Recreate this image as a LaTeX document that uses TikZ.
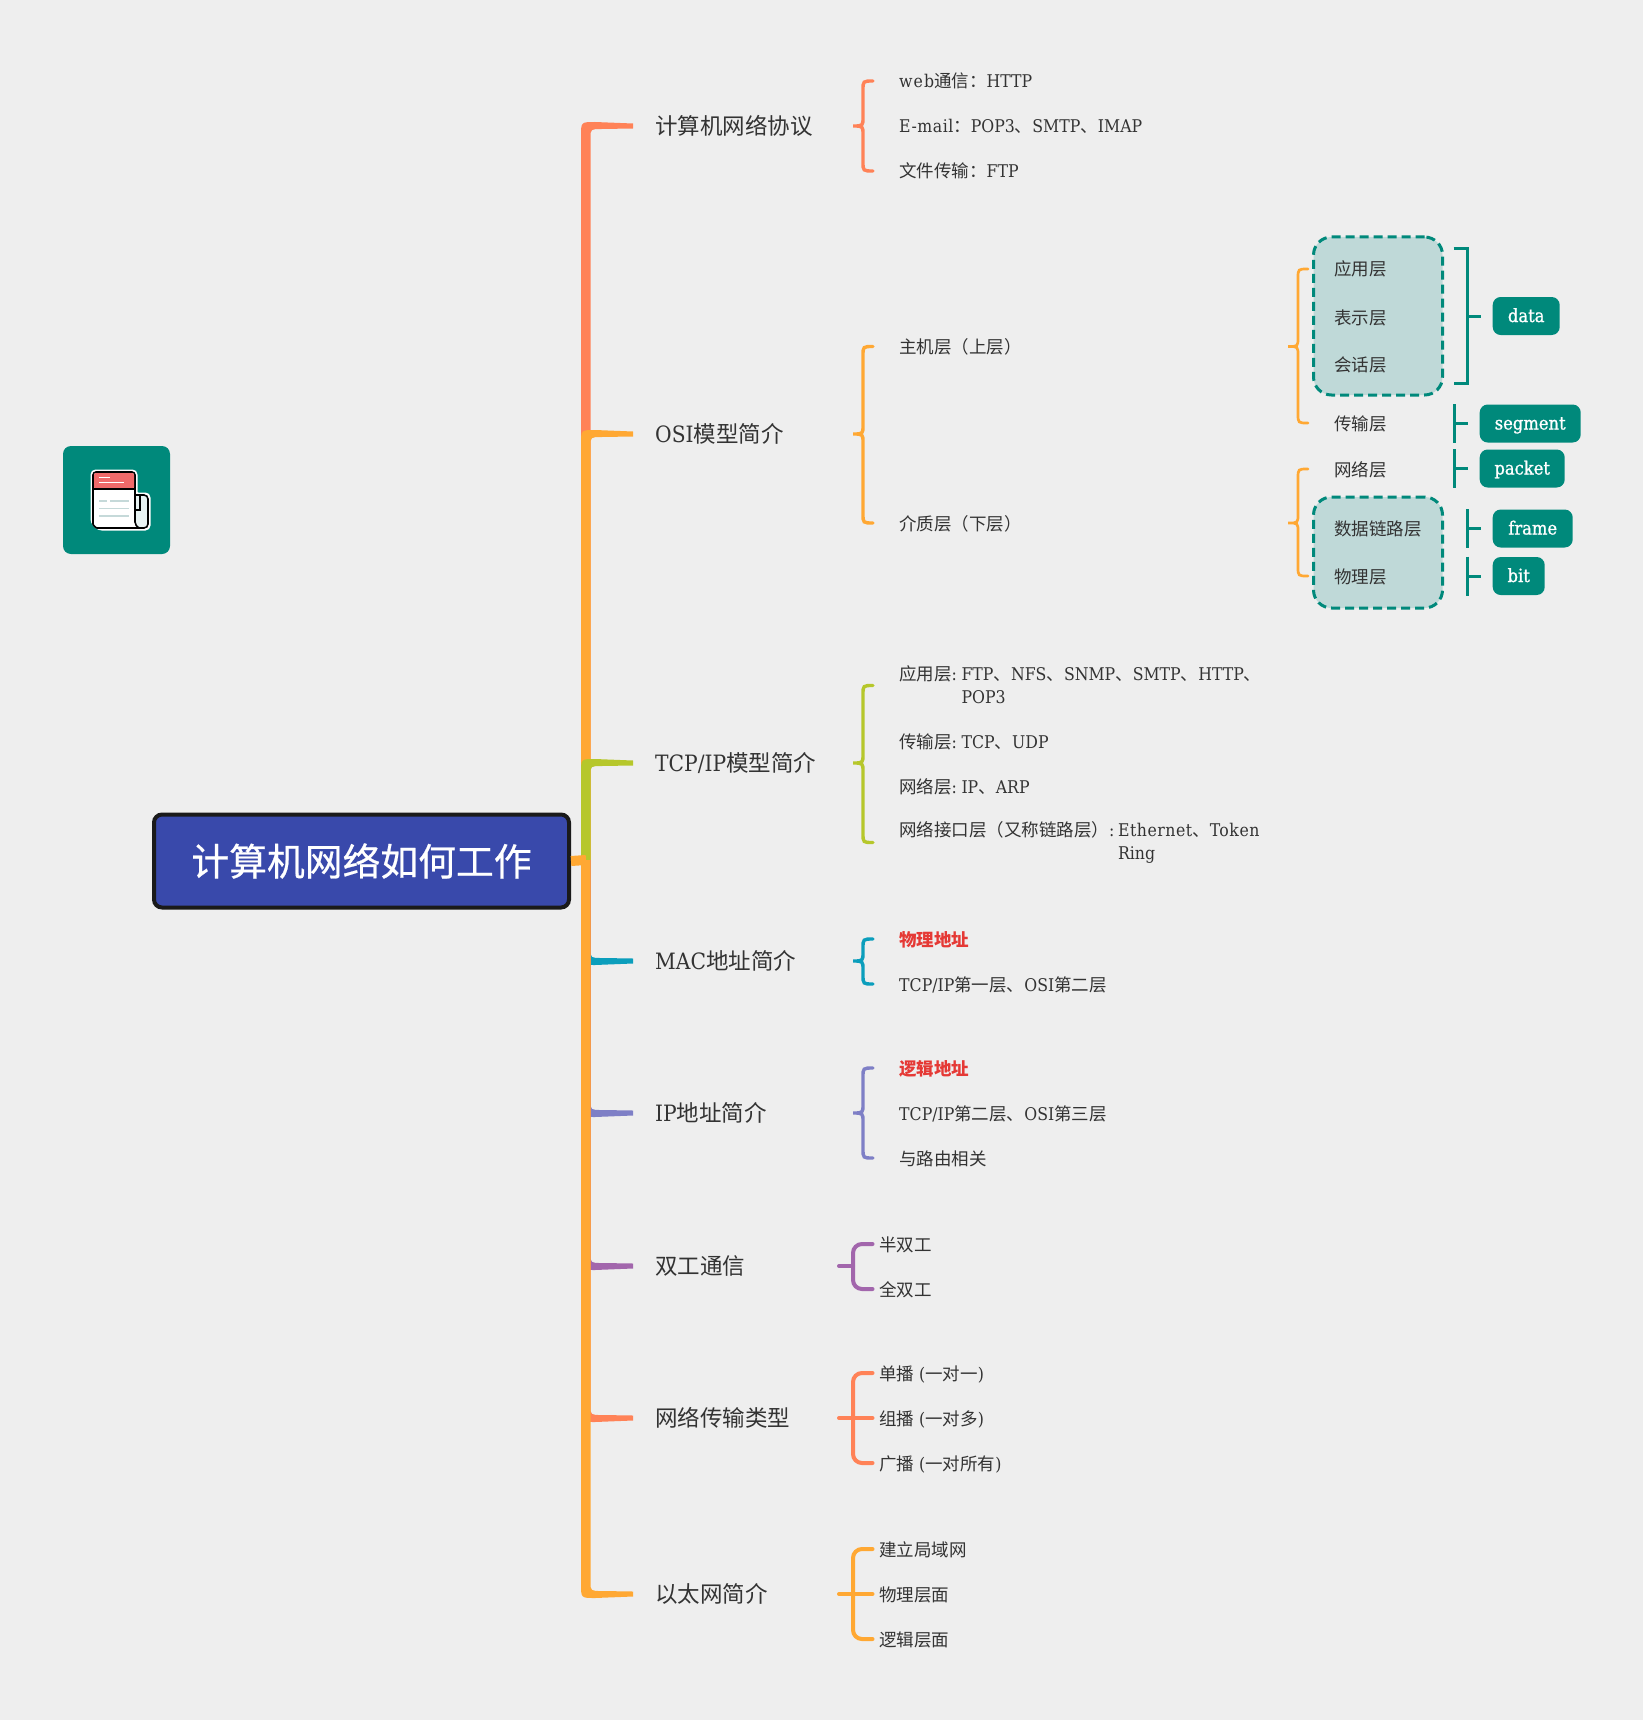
\documentclass[tikz,border=0pt]{standalone}
\usepackage{fontspec}
\usepackage{xcolor}
\usepackage{tikz}
\setmainfont{DejaVu Serif Condensed}
\newfontfamily\zhfont{Noto Sans CJK SC}
\newfontface\tagfont{DejaVu Serif Condensed}[FakeBold=1]
\newfontface\rootfont{Noto Sans CJK SC}[FakeBold=0.6]
\newfontface\widefont{DejaVu Serif Condensed}[LetterSpace=3]
\newfontface\widerfont{DejaVu Serif Condensed}[LetterSpace=6]
\newcommand{\zh}[1]{{\zhfont #1}}
\definecolor{pagegrey}{HTML}{EEEEEE}
\definecolor{rootblue}{HTML}{3949AB}
\definecolor{rootline}{HTML}{1A1A1A}
\definecolor{tagteal}{HTML}{00897B}
\definecolor{paleteal}{HTML}{BFD9D8}
\definecolor{coral}{HTML}{FF8257}
\definecolor{amber}{HTML}{FFA833}
\definecolor{lime}{HTML}{B6C72B}
\definecolor{cyanblue}{HTML}{0B9EBC}
\definecolor{slateblue}{HTML}{7E7FC6}
\definecolor{plum}{HTML}{A266AC}
\definecolor{redmark}{HTML}{E53935}
\definecolor{textgrey}{HTML}{333333}
\definecolor{linegrey}{HTML}{C5D9D9}
\definecolor{headred}{HTML}{F06A6A}
\definecolor{scrollpale}{HTML}{E8F3F3}

\tikzset{
  rootbox/.style={draw=rootline, line width=4pt, fill=rootblue, rounded corners=8pt, text=white,
    minimum width=415pt, minimum height=93pt, font=\fontsize{37.8}{44}\selectfont\rootfont},
  topic/.style={anchor=west, inner sep=0pt, text=textgrey, text height=20pt, text depth=3pt,
    font=\fontsize{22.5}{27}\selectfont},
  leaf/.style={anchor=west, inner sep=0pt, text=textgrey, text height=17pt, text depth=3pt,
    font=\fontsize{17.5}{23}\selectfont},
  longleaf/.style={anchor=west, inner sep=0pt, text=textgrey, align=left,
    font=\fontsize{17.5}{23}\selectfont},
  tagbox/.style={anchor=west, fill=tagteal, rounded corners=8pt, text=white, inner sep=0pt,
    minimum height=38pt, text height=15pt, text depth=3pt, font=\fontsize{18.2}{22}\selectfont\tagfont},
  dashbox/.style={draw=tagteal, line width=3pt, fill=paleteal, rounded corners=18pt,
    dash pattern=on 9pt off 5pt},
  tealline/.style={draw=tagteal, line width=3pt},
  bracewide/.style={line width=3.4pt, line cap=round},
  bracethin/.style={line width=2.7pt, line cap=round},
  combline/.style={line width=4pt, line cap=round, rounded corners=9pt},
}

% tapered branch: colour, topic node, direction (-1 up, 1 down)
\newcommand{\branch}[3]{%
  \coordinate (k) at (spine |- #2.west);
  \fill[#1] ([shift={(-5,0)}]spine) -- ([shift={(-5,-10*#3)}]k)
    .. controls ([shift={(-5,4*#3)}]k) .. ([shift={(9,4*#3)}]k)
    -- ([shift={(47,2.5*#3)}]k) -- ([shift={(47,-2.5*#3)}]k) -- ([shift={(16,-3*#3)}]k)
    .. controls ([shift={(4.5,-3*#3)}]k) .. ([shift={(4.5,-12*#3)}]k)
    -- ([shift={(4.5,0)}]spine) -- cycle;
}
% curly brace: style, parent, first leaf, last leaf
\newcommand{\curly}[4]{%
  \coordinate (k) at (#3.west |- #2.west);
  \draw[#1] ([shift={(-26,0)}]#3.west) .. controls ([shift={(-36,0)}]#3.west) .. ([shift={(-36,9)}]#3.west)
    -- ([shift={(-36,-9)}]k) .. controls ([shift={(-36,0)}]k) .. ([shift={(-46,0)}]k)
    .. controls ([shift={(-36,0)}]k) .. ([shift={(-36,9)}]k)
    -- ([shift={(-36,-9)}]#4.west |- #4.west) .. controls ([shift={(-36,0)}]#4.west) .. ([shift={(-26,0)}]#4.west);
}
% square comb with a stem: colour, parent, first leaf, last leaf
\newcommand{\comb}[4]{%
  \coordinate (k) at (#3.west |- #2.west);
  \draw[combline,#1] ([shift={(-6.5,0)}]#3.west) -- ([shift={(-26,0)}]#3.west)
    -- ([shift={(-26,0)}]#4.west) -- ([shift={(-6.5,0)}]#4.west);
  \draw[combline,#1] ([shift={(-40,0)}]k) -- ([shift={(-26,0)}]k);
}
% short tick in front of a tag
\newcommand{\tick}[1]{%
  \draw[tealline] ([shift={(-12,0)}]#1.west) -- ([shift={(-25,0)}]#1.west);
  \draw[tealline] ([shift={(-25,-19.5)}]#1.west) -- ([shift={(-25,19.5)}]#1.west);
}

\begin{document}
\begin{tikzpicture}[x=1pt,y=-1pt]
  \path[use as bounding box, fill=pagegrey] (0,0) rectangle (1643,1720);

  % Icon
  \node[fill=tagteal, rounded corners=8pt, minimum width=107pt, minimum height=108pt, inner sep=0pt] (logo) at (116.5,500) {};
  \draw[white, line width=5pt, rounded corners=3pt] (93,472) -- (135,472) -- (135,495) -- (148,495) -- (148,528) -- (99,528) -- (93,522) -- cycle;
  \draw[black, line width=1.6pt, fill=scrollpale, rounded corners=4pt] (135,495) -- (148,495) -- (148,528) -- (130,528) -- (135,495);
  \draw[black, line width=1.6pt, fill=white, rounded corners=3pt] (93,472) -- (135,472) -- (135,519) .. controls (135,524) and (137,527) .. (141,528) -- (100,528) .. controls (96,528) and (93,525) .. (93,521) -- cycle;
  \fill[headred, rounded corners=2pt] (94,473) -- (134,473) -- (134,489) -- (94,489) -- cycle;
  \draw[black, line width=1.4pt] (93,489) -- (135,489);
  \draw[black, line width=1.6pt] (135,510) -- (140,510) -- (140,496);
  \draw[white, line width=1.5pt] (99,477.7) -- (110,477.7) (99,482.7) -- (124,482.7);
  \draw[linegrey, line width=1.5pt] (99,501) -- (107,501) (110,501) -- (129,501) (99,508.7) -- (129,508.7) (99,516) -- (129,516);

  % Centre and topics
  \coordinate (spine) at (586,860);
  \node[rootbox] (root) at (361.5,861) {\raisebox{1pt}{计算机网络如何工作}};
  \node[topic] (proto) at (655,126) {\zh{计算机网络协议}};
  \node[topic] (osi) at (655,434) {OSI\zh{模型简介}};
  \node[topic] (tcpip) at (655,763) {TCP/IP\zh{模型简介}};
  \node[topic] (mac) at (655,961) {MAC\zh{地址简介}};
  \node[topic] (ipaddr) at (655,1113) {IP\zh{地址简介}};
  \node[topic] (duplex) at (655,1266) {\zh{双工通信}};
  \node[topic] (cast) at (655,1418) {\zh{网络传输类型}};
  \node[topic] (ether) at (655,1594) {\zh{以太网简介}};

  % Branches, later ones lie on top
  \branch{coral}{proto}{-1}
  \branch{amber}{osi}{-1}
  \branch{lime}{tcpip}{-1}
  \branch{cyanblue}{mac}{1}
  \branch{slateblue}{ipaddr}{1}
  \branch{plum}{duplex}{1}
  \branch{coral}{cast}{1}
  \branch{amber}{ether}{1}
  \draw[amber, line width=10pt] (root.east) -- (spine);

  % Protocols
  \node[leaf] (proto1) at (899,81) {{\widerfont web}\zh{通信：}HTTP};
  \node[leaf] (proto2) at (899,126) {{\widefont E-mail}\zh{：}POP3\zh{、}SMTP\zh{、}IMAP};
  \node[leaf] (proto3) at (899,171) {\zh{文件传输：}FTP};
  \curly{bracewide,coral}{proto}{proto1}{proto3}

  % OSI layers
  \node[leaf] (host) at (899,346.5) {\zh{主机层（上层）}};
  \node[leaf] (media) at (899,523) {\zh{介质层（下层）}};
  \curly{bracewide,amber}{osi}{host}{media}

  \node[dashbox, minimum width=129pt, minimum height=158pt] (upperbox) at (1378,316) {};
  \node[dashbox, minimum width=129pt, minimum height=111pt] (lowerbox) at (1378,552.5) {};
  \node[leaf] (app) at (1334,269) {\zh{应用层}};
  \node[leaf] (pres) at (1334,317) {\zh{表示层}};
  \node[leaf] (sess) at (1334,364) {\zh{会话层}};
  \node[leaf] (trans) at (1334,423) {\zh{传输层}};
  \node[leaf] (net) at (1334,469) {\zh{网络层}};
  \node[leaf] (link) at (1334,528) {\zh{数据链路层}};
  \node[leaf] (phys) at (1334,576) {\zh{物理层}};
  \curly{bracethin,amber}{host}{app}{trans}
  \curly{bracethin,amber}{media}{net}{phys}

  \node[tagbox, minimum width=67pt] (data) at (1492.5,316) {data};
  \node[tagbox, minimum width=101pt] (segment) at (1479.5,423.5) {segment};
  \node[tagbox, minimum width=85pt] (packet) at (1479.5,468.5) {packet};
  \node[tagbox, minimum width=80pt] (frame) at (1492.5,528.5) {frame};
  \node[tagbox, minimum width=52pt] (bit) at (1492.5,576) {bit};
  \draw[tealline] ([shift={(-12,0)}]data.west) -- ([shift={(-25,0)}]data.west);
  \draw[tealline] ([shift={(-39,-67)}]data.west) -- ([shift={(-25,-67)}]data.west) -- ([shift={(-25,67)}]data.west) -- ([shift={(-39,67)}]data.west);
  \tick{segment}
  \tick{packet}
  \tick{frame}
  \tick{bit}

  % TCP/IP layers
  \node[longleaf] (tcp1) at (899,685.5) {\zh{应用层}:\kern4.5pt FTP\zh{、}NFS\zh{、}SNMP\zh{、}SMTP\zh{、}HTTP\zh{、}\\\phantom{\zh{应用层}:\kern4.5pt }POP3};
  \node[leaf] (tcp2) at (899,741) {\zh{传输层}:\kern4.5pt TCP\zh{、}UDP};
  \node[leaf] (tcp3) at (899,786) {\zh{网络层}:\kern4.5pt IP\zh{、}ARP};
  \node[longleaf] (tcp4) at (899,842.5) {\zh{网络接口层（又称链路层）}:\kern3.5pt {\widefont Ethernet}\zh{、}{\widefont Token}\\\phantom{\zh{网络接口层（又称链路层）}:\kern3.5pt }Ring};
  \curly{bracewide,lime}{tcpip}{tcp1}{tcp4}

  % MAC
  \node[leaf, text=redmark] (mac1) at (899,939) {\zhfont\bfseries 物理地址};
  \node[leaf] (mac2) at (899,984) {TCP/IP\zh{第一层、}OSI\zh{第二层}};
  \curly{bracewide,cyanblue}{mac}{mac1}{mac2}

  % IP
  \node[leaf, text=redmark] (ip1) at (899,1068) {\zhfont\bfseries 逻辑地址};
  \node[leaf] (ip2) at (899,1113) {TCP/IP\zh{第二层、}OSI\zh{第三层}};
  \node[leaf] (ip3) at (899,1158) {\zh{与路由相关}};
  \curly{bracewide,slateblue}{ipaddr}{ip1}{ip3}

  % Duplex
  \node[leaf] (half) at (879,1244) {\zh{半双工}};
  \node[leaf] (full) at (879,1289) {\zh{全双工}};
  \comb{plum}{duplex}{half}{full}

  % Transmission types
  \node[leaf] (uni) at (879,1373) {\zh{单播} (\zh{一对一})};
  \node[leaf] (multi) at (879,1418) {\zh{组播} (\zh{一对多})};
  \node[leaf] (broad) at (879,1463) {\zh{广播} (\zh{一对所有})};
  \comb{coral}{cast}{uni}{broad}
  \draw[combline,coral] ([shift={(-26,0)}]multi.west) -- ([shift={(-6.5,0)}]multi.west);

  % Ethernet
  \node[leaf] (lan) at (879,1549) {\zh{建立局域网}};
  \node[leaf] (physface) at (879,1594) {\zh{物理层面}};
  \node[leaf] (logicface) at (879,1639) {\zh{逻辑层面}};
  \comb{amber}{ether}{lan}{logicface}
  \draw[combline,amber] ([shift={(-26,0)}]physface.west) -- ([shift={(-6.5,0)}]physface.west);
\end{tikzpicture}
\end{document}
